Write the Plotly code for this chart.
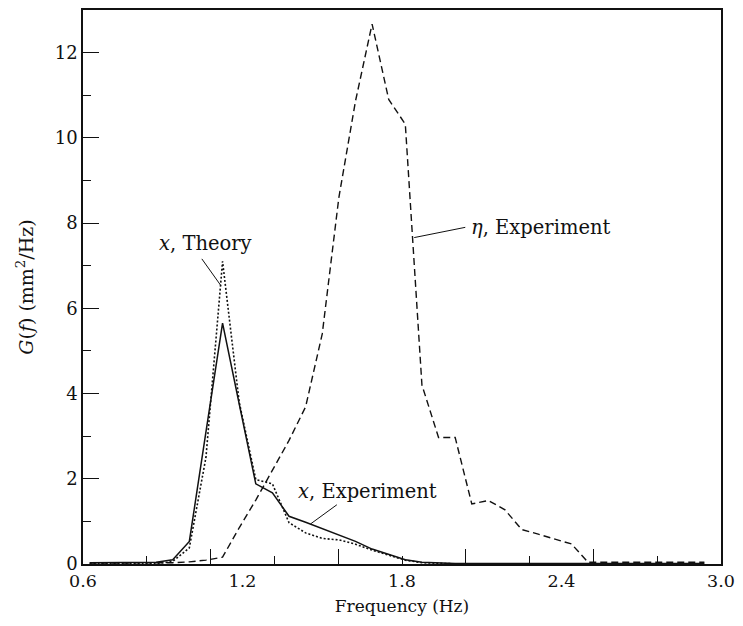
import plotly.graph_objects as go

# Frequency grid (Hz)
freq = [0.625, 0.6875, 0.75, 0.8125, 0.875, 0.9375, 1.0, 1.0625, 1.125, 1.1875,
        1.25, 1.3125, 1.375, 1.4375, 1.5, 1.5625, 1.625, 1.6875, 1.75, 1.8125,
        1.875, 1.9375, 2.0, 2.0625, 2.125, 2.1875, 2.25, 2.3125, 2.375, 2.4375,
        2.5, 2.5625, 2.625, 2.6875, 2.75, 2.8125, 2.875, 2.9375]

# eta, experiment (mm^2/Hz)
eta_exp = [0.02, 0.02, 0.02, 0.02, 0.02, 0.03, 0.05, 0.09, 0.16, 0.85,
           1.5, 2.2, 2.9, 3.69, 5.4, 8.6, 10.86, 12.67, 10.9, 10.32,
           4.2, 2.97, 2.97, 1.41, 1.49, 1.27, 0.81, 0.7, 0.58, 0.47,
           0.04, 0.04, 0.04, 0.04, 0.04, 0.04, 0.04, 0.04]

# x, experiment
x_exp = [0.03, 0.03, 0.03, 0.03, 0.04, 0.1, 0.53, 3.1, 5.65, 3.76,
         1.88, 1.67, 1.12, 0.98, 0.83, 0.68, 0.53, 0.35, 0.22, 0.1,
         0.04, 0.02, 0.01, 0.01, 0.01, 0.01, 0.01, 0.01, 0.01, 0.01,
         0.01, 0.01, 0.01, 0.01, 0.01, 0.01, 0.01, 0.01]

# x, theory
x_theory = [0.005, 0.005, 0.005, 0.005, 0.005, 0.06, 0.38, 2.5, 7.1, 3.8,
            1.98, 1.88, 0.97, 0.73, 0.6, 0.565, 0.465, 0.325, 0.2, 0.09,
            0.03, 0.01, 0.005, 0.005, 0.005, 0.005, 0.005, 0.005, 0.005, 0.005,
            0.005, 0.005, 0.005, 0.005, 0.005, 0.005, 0.005, 0.005]

x_labels = [0.6, 1.2, 1.8, 2.4, 3.0]
x_ticktext = ["0.6", "1.2", "1.8", "2.4", "3.0"]
x_ticks_long = [1.08, 1.56, 2.04, 2.52]
x_ticks_short = [0.84, 1.32, 1.80, 2.28, 2.76]
y_labels = [0, 2, 4, 6, 8, 10, 12]

FONT = "DejaVu Serif"
INK = "#111111"

fig = go.Figure()
fig.add_trace(go.Scatter(x=freq, y=eta_exp, mode="lines",
                         line=dict(color=INK, width=1.4, dash="7px,4px")))
fig.add_trace(go.Scatter(x=freq, y=x_theory, mode="lines",
                         line=dict(color=INK, width=1.6, dash="2px,2px")))
fig.add_trace(go.Scatter(x=freq, y=x_exp, mode="lines",
                         line=dict(color=INK, width=1.5)))
# carrier trace for the overlay axis holding the long bottom ticks
fig.add_trace(go.Scatter(x=[x_labels[0], x_labels[-1]], y=[None, None],
                         xaxis="x2", mode="lines", hoverinfo="skip"))

annots = [
    dict(text="<i>x</i>, Theory", x=1.0625, y=7.51, xanchor="center"),
    dict(text="<i>η</i>, Experiment", x=2.052, y=7.90, xanchor="left"),
    dict(text="<i>x</i>, Experiment", x=1.403, y=1.70, xanchor="left"),
]
for a in annots:
    fig.add_annotation(text=a["text"], x=a["x"], y=a["y"], xanchor=a["xanchor"],
                       yanchor="middle", showarrow=False,
                       font=dict(family=FONT, size=19.5, color=INK))

# leader lines from labels to curves
leaders = [((1.047, 7.16), (1.119, 6.53)),
           ((2.038, 7.90), (1.846, 7.66)),
           ((1.555, 1.39), (1.456, 0.94))]
for (tx, ty), (hx, hy) in leaders:
    fig.add_shape(type="line", xref="x", yref="y", x0=tx, y0=ty, x1=hx, y1=hy,
                  line=dict(color=INK, width=1))

fig.update_layout(
    width=743, height=626,
    margin=dict(l=83, r=14, t=8, b=62),
    paper_bgcolor="white", plot_bgcolor="white",
    showlegend=False,
    font=dict(family=FONT, size=17, color=INK),
    xaxis=dict(range=[0.6, 3.0], tickmode="array", tickvals=x_labels,
               ticktext=x_ticktext, ticklabeloverflow="allow",
               ticks="inside", ticklen=0, showgrid=False, zeroline=False,
               showline=True, linecolor=INK, linewidth=1.5, mirror=True,
               tickfont=dict(family=FONT, size=17.5, color=INK),
               minor=dict(tickmode="array", tickvals=x_ticks_short,
                          ticks="inside", ticklen=8, tickcolor=INK, tickwidth=1.2,
                          showgrid=False),
               title=dict(text="Frequency (Hz)", standoff=10,
                          font=dict(family=FONT, size=17, color=INK))),
    xaxis2=dict(range=[0.6, 3.0], overlaying="x", anchor="y", side="bottom",
                tickmode="array", tickvals=x_ticks_long, ticks="inside",
                ticklen=15, tickcolor=INK, tickwidth=1.2, showticklabels=False,
                showgrid=False, zeroline=False, showline=False),
    yaxis=dict(range=[0, 13], tickmode="array", tickvals=y_labels,
               ticks="inside", ticklen=16, tickcolor=INK, tickwidth=1.2,
               showgrid=False, zeroline=False,
               showline=True, linecolor=INK, linewidth=1.5, mirror=True,
               tickfont=dict(family=FONT, size=18, color=INK),
               minor=dict(dtick=1, ticks="inside", ticklen=8, tickcolor=INK,
                          tickwidth=1.2, showgrid=False),
               title=dict(text="<i>G</i>(<i>f</i>) (mm<sup>2</sup>/Hz)", standoff=16,
                          font=dict(family=FONT, size=19, color=INK))),
)

fig.write_html("out.html")
